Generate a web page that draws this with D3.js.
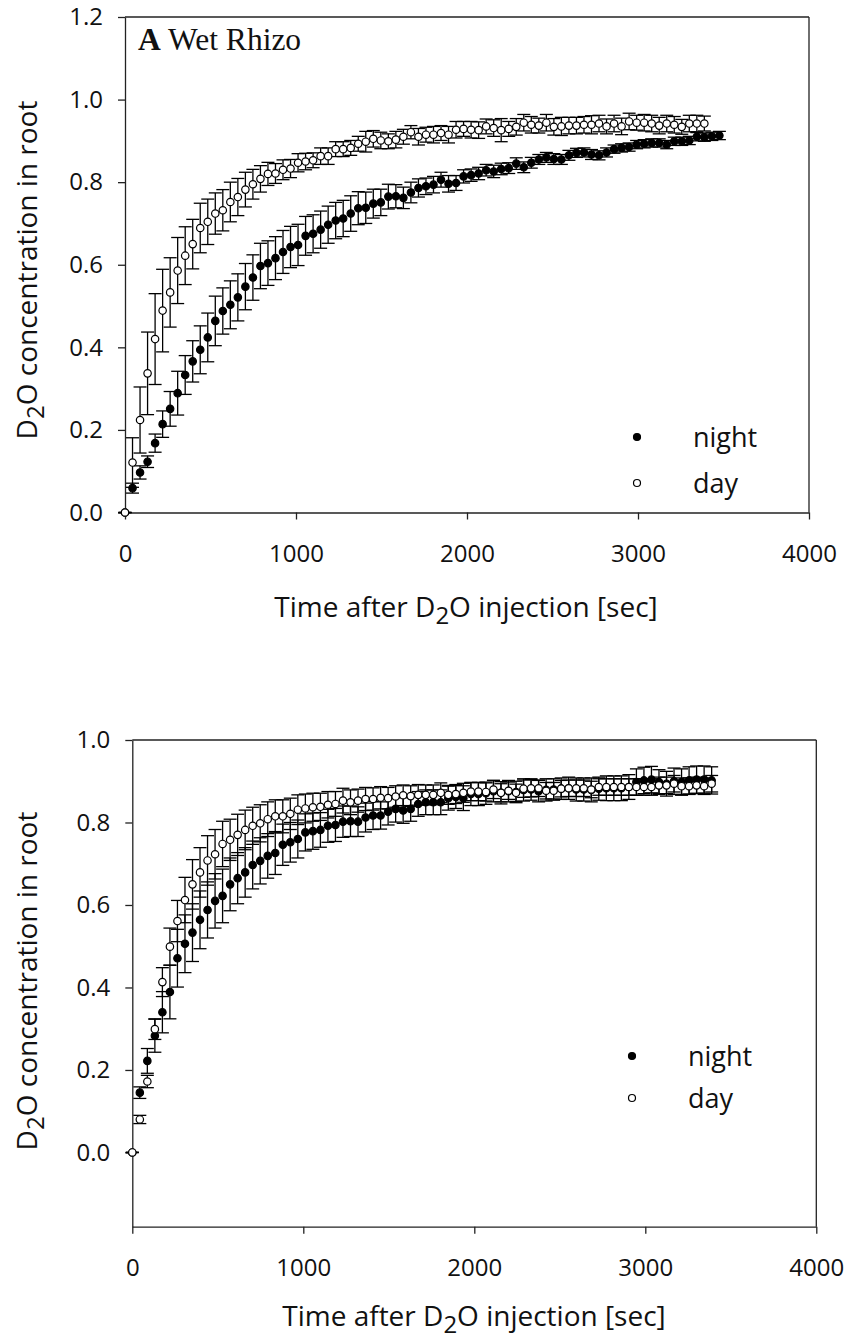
<!DOCTYPE html>
<html>
<head>
<meta charset="utf-8">
<script src="https://cdn.jsdelivr.net/npm/d3@7"></script>
<style>
  body { margin: 0; background: #fff; }
  svg { display: block; }
</style>
</head>
<body>
<div id="chart"></div>
<script>
// sampling times (sec), shared by all series
var times = [0,44,88,132,176,220,264,308,352,396,440,484,528,572,616,660,704,748,792,836,
  880,924,968,1012,1056,1100,1144,1188,1232,1276,1320,1364,1408,1452,1496,1540,1584,1628,1672,1716,
  1760,1804,1848,1892,1936,1980,2024,2068,2112,2156,2200,2244,2288,2332,2376,2420,2464,2508,2552,2596,
  2640,2684,2728,2772,2816,2860,2904,2948,2992,3036,3080,3124,3168,3212,3256,3300,3344,3388,3432,3476];

// panel A (wet rhizo)
var topNight = [0,0.059,0.097,0.123,0.168,0.214,0.251,0.289,0.333,0.366,0.394,0.424,0.464,0.488,0.503,0.521,0.547,0.569,0.597,0.604,
  0.616,0.631,0.643,0.648,0.670,0.675,0.685,0.697,0.707,0.712,0.724,0.737,0.738,0.748,0.751,0.765,0.766,0.762,0.775,0.786,
  0.790,0.794,0.806,0.796,0.798,0.814,0.817,0.821,0.829,0.826,0.832,0.834,0.845,0.836,0.847,0.855,0.860,0.856,0.855,0.865,
  0.871,0.872,0.867,0.865,0.872,0.880,0.883,0.885,0.891,0.893,0.895,0.895,0.891,0.899,0.899,0.901,0.910,0.909,0.911,0.913];
var topNightErr = [0,0.012,0.016,0.014,0.022,0.032,0.042,0.053,0.047,0.05,0.058,0.059,0.06,0.056,0.058,0.057,0.056,0.055,0.055,0.054,
  0.052,0.052,0.05,0.05,0.047,0.046,0.045,0.045,0.044,0.044,0.043,0.04,0.038,0.035,0.032,0.03,0.028,0.026,0.025,0.022,
  0.02,0.02,0.018,0.02,0.018,0.016,0.015,0.015,0.014,0.015,0.014,0.013,0.014,0.013,0.013,0.012,0.012,0.013,0.012,0.012,
  0.011,0.011,0.012,0.011,0.011,0.01,0.01,0.01,0.01,0.01,0.01,0.01,0.01,0.01,0.01,0.01,0.01,0.01,0.01,0.01];
var topDay = [0,0.121,0.224,0.337,0.420,0.489,0.533,0.586,0.622,0.650,0.689,0.704,0.724,0.732,0.752,0.764,0.782,0.795,0.808,0.820,
  0.821,0.830,0.833,0.847,0.850,0.853,0.863,0.863,0.880,0.880,0.883,0.893,0.898,0.905,0.901,0.899,0.903,0.910,0.921,0.910,
  0.915,0.915,0.919,0.915,0.927,0.929,0.927,0.926,0.935,0.931,0.926,0.929,0.934,0.944,0.939,0.937,0.944,0.934,0.935,0.937,
  0.937,0.939,0.939,0.942,0.935,0.942,0.935,0.947,0.944,0.944,0.942,0.937,0.942,0.939,0.934,0.942,0.942,0.942];
var topDayErr = [0,0.06,0.08,0.10,0.11,0.10,0.084,0.08,0.07,0.06,0.06,0.055,0.05,0.05,0.048,0.045,0.042,0.036,0.032,0.028,
  0.024,0.024,0.022,0.022,0.02,0.018,0.02,0.02,0.018,0.018,0.018,0.018,0.025,0.02,0.02,0.018,0.02,0.018,0.016,0.02,
  0.018,0.02,0.018,0.02,0.02,0.018,0.02,0.02,0.018,0.02,0.028,0.018,0.02,0.02,0.02,0.018,0.02,0.02,0.022,0.02,
  0.02,0.02,0.022,0.02,0.018,0.02,0.02,0.02,0.018,0.02,0.02,0.02,0.02,0.02,0.018,0.02,0.02,0.018];

// panel B
var botNight = [0,0.145,0.222,0.283,0.340,0.389,0.471,0.506,0.533,0.564,0.588,0.610,0.622,0.650,0.665,0.679,0.697,0.707,0.719,0.726,
  0.746,0.752,0.760,0.776,0.779,0.782,0.792,0.794,0.802,0.803,0.802,0.812,0.817,0.817,0.826,0.833,0.829,0.833,0.845,0.849,
  0.849,0.849,0.859,0.862,0.859,0.869,0.869,0.871,0.876,0.872,0.876,0.874,0.879,0.880,0.876,0.879,0.880,0.882,0.883,0.880,
  0.880,0.879,0.882,0.883,0.883,0.883,0.886,0.898,0.902,0.904,0.898,0.894,0.900,0.898,0.902,0.904,0.904,0.902];
var botNightErr = [0,0.014,0.03,0.04,0.05,0.065,0.07,0.07,0.07,0.07,0.068,0.066,0.065,0.064,0.062,0.06,0.058,0.056,0.054,0.052,
  0.05,0.048,0.046,0.045,0.044,0.042,0.04,0.04,0.038,0.037,0.036,0.035,0.034,0.033,0.032,0.032,0.031,0.03,0.03,0.03,
  0.03,0.03,0.029,0.028,0.03,0.028,0.028,0.027,0.026,0.027,0.026,0.026,0.027,0.026,0.026,0.027,0.026,0.026,0.027,0.028,
  0.028,0.029,0.028,0.03,0.03,0.03,0.03,0.032,0.032,0.032,0.03,0.03,0.032,0.032,0.033,0.033,0.033,0.033];
var botDay = [0,0.080,0.172,0.299,0.413,0.499,0.561,0.612,0.650,0.679,0.708,0.723,0.748,0.758,0.770,0.782,0.792,0.798,0.808,0.815,
  0.815,0.821,0.831,0.834,0.837,0.838,0.843,0.845,0.853,0.849,0.853,0.857,0.857,0.860,0.859,0.863,0.866,0.864,0.867,0.867,
  0.867,0.872,0.867,0.869,0.872,0.875,0.875,0.874,0.880,0.872,0.877,0.872,0.882,0.883,0.883,0.877,0.877,0.882,0.883,0.883,
  0.883,0.880,0.886,0.886,0.886,0.886,0.886,0.886,0.886,0.886,0.890,0.890,0.894,0.888,0.888,0.890,0.888,0.894];
var botDayErr = [0,0.01,0.015,0.025,0.035,0.045,0.05,0.055,0.06,0.06,0.06,0.06,0.055,0.05,0.05,0.048,0.045,0.045,0.042,0.04,
  0.04,0.038,0.036,0.035,0.034,0.033,0.032,0.03,0.03,0.03,0.028,0.028,0.027,0.027,0.026,0.026,0.025,0.025,0.025,0.024,
  0.024,0.024,0.023,0.023,0.023,0.022,0.022,0.022,0.022,0.022,0.021,0.021,0.021,0.021,0.02,0.02,0.02,0.02,0.02,0.02,
  0.02,0.02,0.02,0.02,0.02,0.02,0.02,0.02,0.02,0.02,0.02,0.02,0.02,0.02,0.02,0.02,0.02,0.02];

var xTicks = [0, 1000, 2000, 3000, 4000];
var legendLabels = ["night", "day"];

var sans = "'Open Sans', 'Noto Sans', sans-serif";

var svg = d3.select("#chart").append("svg")
  .attr("width", 847)
  .attr("height", 1340);

function panel(cfg) {
  var x = d3.scaleLinear().domain([0, 4000]).range([cfg.left, cfg.right]);
  var y = d3.scaleLinear().domain(cfg.yDomain).range([cfg.bottom, cfg.top]);
  var g = svg.append("g");

  // frame (top + right)
  g.append("line").attr("x1", cfg.left).attr("x2", cfg.right).attr("y1", cfg.top).attr("y2", cfg.top)
    .attr("stroke", "#222").attr("stroke-width", 1.3);
  g.append("line").attr("x1", cfg.right).attr("x2", cfg.right).attr("y1", cfg.top).attr("y2", cfg.bottom)
    .attr("stroke", "#222").attr("stroke-width", 1.3);

  //x axis
  var xa = g.append("g")
    .attr("transform", "translate(0," + cfg.bottom + ")")
    .call(d3.axisBottom(x).tickValues(xTicks).tickFormat(d3.format("d")).tickSize(7).tickSizeOuter(0).tickPadding(25));
  //y axis
  var ya = g.append("g")
    .attr("transform", "translate(" + cfg.left + ",0)")
    .call(d3.axisLeft(y).tickValues(cfg.yTicks).tickFormat(d3.format(".1f")).tickSize(7).tickSizeOuter(0).tickPadding(15));
  [xa, ya].forEach(function(a) {
    a.select(".domain").attr("stroke", "#222").attr("stroke-width", 1.3);
    a.selectAll(".tick line").attr("stroke", "#222").attr("stroke-width", 1.3);
    a.selectAll("text").attr("font-family", sans).attr("font-size", 24).attr("fill", "#111");
  });

  // series: night (filled) then day (open)
  var series = [
    {vals: cfg.night, err: cfg.nightErr, fill: "#000"},
    {vals: cfg.day, err: cfg.dayErr, fill: "#fff"}
  ];
  series.forEach(function(s) {
    var pts = s.vals.map(function(v, i) { return {t: times[i], v: v, e: s.err[i]}; });
    var eb = g.append("g").attr("stroke", "#000").attr("stroke-width", 1.3);
    eb.selectAll(".ev").data(pts).enter().append("line")
      .attr("x1", function(d) { return x(d.t); }).attr("x2", function(d) { return x(d.t); })
      .attr("y1", function(d) { return y(d.v - d.e); }).attr("y2", function(d) { return y(d.v + d.e); });
    eb.selectAll(".ct").data(pts).enter().append("line")
      .attr("x1", function(d) { return x(d.t) - 6.5; }).attr("x2", function(d) { return x(d.t) + 6.5; })
      .attr("y1", function(d) { return y(d.v + d.e); }).attr("y2", function(d) { return y(d.v + d.e); });
    eb.selectAll(".cb").data(pts).enter().append("line")
      .attr("x1", function(d) { return x(d.t) - 6.5; }).attr("x2", function(d) { return x(d.t) + 6.5; })
      .attr("y1", function(d) { return y(d.v - d.e); }).attr("y2", function(d) { return y(d.v - d.e); });
    g.append("g").selectAll("circle").data(pts).enter().append("circle")
      .attr("cx", function(d) { return x(d.t); })
      .attr("cy", function(d) { return y(d.v); })
      .attr("r", 3.7)
      .attr("fill", s.fill)
      .attr("stroke", "#000")
      .attr("stroke-width", 1.2);
  });

  // legend
  legendLabels.forEach(function(lab, i) {
    var ly = cfg.legendY[i];
    g.append("circle").attr("cx", cfg.legendX).attr("cy", ly).attr("r", 3.5)
      .attr("fill", i == 0 ? "#000" : "#fff").attr("stroke", "#000").attr("stroke-width", 1.2);
    g.append("text").attr("x", cfg.legendX + 56).attr("y", ly + 10)
      .attr("font-family", sans).attr("font-size", 27).attr("fill", "#111")
      .text(lab);
  });

  // axis titles
  var xt = g.append("text")
    .attr("x", cfg.xTitleX).attr("y", cfg.xTitleY)
    .attr("text-anchor", "middle")
    .attr("font-family", sans).attr("font-size", 28).attr("fill", "#111");
  xt.append("tspan").text("Time after D");
  xt.append("tspan").attr("font-size", 24).attr("dy", 7).text("2");
  xt.append("tspan").attr("dy", -7).text("O injection [sec]");

  var yt = g.append("text")
    .attr("transform", "translate(" + cfg.yTitleX + "," + cfg.yTitleY + ") rotate(-90)")
    .attr("text-anchor", "middle")
    .attr("font-family", sans).attr("font-size", 28).attr("fill", "#111");
  yt.append("tspan").text("D");
  yt.append("tspan").attr("font-size", 24).attr("dy", 7).text("2");
  yt.append("tspan").attr("dy", -7).text("O concentration in root");
}

panel({
  left: 125, right: 809, top: 17, bottom: 512.5,
  yDomain: [0, 1.2], yTicks: [0, 0.2, 0.4, 0.6, 0.8, 1.0, 1.2],
  night: topNight, nightErr: topNightErr, day: topDay, dayErr: topDayErr,
  legendX: 637, legendY: [437, 483],
  xTitleX: 466, xTitleY: 617, yTitleX: 37, yTitleY: 270
});

panel({
  left: 132.3, right: 816.3, top: 740, bottom: 1226.7,
  yDomain: [-0.18, 1.0], yTicks: [0, 0.2, 0.4, 0.6, 0.8, 1.0],
  night: botNight, nightErr: botNightErr, day: botDay, dayErr: botDayErr,
  legendX: 632, legendY: [1056, 1098],
  xTitleX: 474, xTitleY: 1326, yTitleX: 37, yTitleY: 981
});

// panel label
var lab = svg.append("text")
  .attr("x", 138).attr("y", 50)
  .attr("font-family", "'Liberation Serif', 'Times New Roman', serif")
  .attr("font-size", 31.5).attr("fill", "#111");
lab.append("tspan").attr("font-weight", "bold").text("A");
lab.append("tspan").text(" Wet Rhizo");
</script>
</body>
</html>
